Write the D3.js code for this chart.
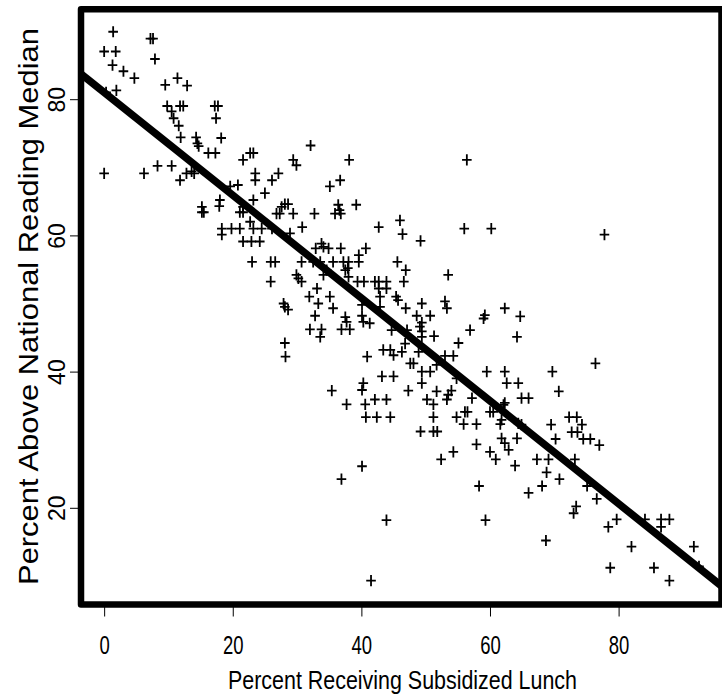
<!DOCTYPE html>
<html>
<head>
<meta charset="utf-8">
<script src="https://cdn.jsdelivr.net/npm/d3@7"></script>
<style>
body { margin: 0; background: #fff; }
</style>
</head>
<body>
<div id="chart"></div>
<script>
// Percent receiving subsidized lunch (x) per school
const lunch = [
    1.4, 7.2, 7.6, 0.0, 1.8, 7.9, 1.3, 3.0, 4.7, 0.3, 1.9, 9.5, 11.4, 12.9, 9.8, 10.5, 11.8, 12.3, 17.2, 17.7,
    17.4, 18.2, 10.8, 11.6, 11.9, 14.3, 14.5, 14.7, 16.2, 17.3, 21.6, 22.7, 23.2, 29.4, 29.9, 0.0, 6.2, 8.3, 10.5, 11.8,
    12.8, 13.6, 14.0, 23.5, 23.5, 26.1, 27.1, 25.0, 19.6, 20.8, 15.2, 18.0, 23.2, 21.6, 27.6, 28.1, 32.1, 38.1, 56.4, 35.1,
    36.7, 36.4, 39.2, 15.2, 15.5, 17.9, 21.1, 21.6, 18.3, 18.3, 19.8, 21.1, 22.7, 23.2, 24.5, 21.6, 22.9, 24.2, 26.8, 27.3,
    28.6, 29.4, 26.1, 28.9, 23.0, 25.9, 26.6, 25.9, 29.9, 27.9, 28.1, 28.6, 28.1, 28.2, 32.7, 35.9, 36.6, 36.8, 30.8, 42.7,
    46.0, 46.4, 56.0, 60.2, 49.2, 33.8, 34.1, 34.9, 32.9, 36.8, 40.7, 39.6, 30.7, 32.5, 33.6, 35.6, 37.2, 38.0, 39.6, 45.6,
    46.9, 34.6, 37.5, 37.9, 30.2, 30.7, 34.1, 38.0, 39.4, 40.4, 42.1, 42.7, 43.9, 46.6, 53.5, 42.7, 43.9, 33.1, 31.9, 35.1,
    42.9, 45.4, 45.7, 33.3, 35.6, 40.1, 42.9, 46.9, 49.4, 53.0, 53.3, 62.3, 32.8, 37.5, 37.7, 40.1, 40.3, 41.3, 48.6, 49.4,
    49.1, 50.7, 59.0, 59.2, 56.9, 32.0, 33.8, 33.6, 36.9, 38.2, 44.7, 47.1, 49.4, 49.4, 51.3, 55.1, 46.8, 43.4, 44.5, 45.0,
    46.3, 40.9, 48.9, 53.0, 54.3, 47.6, 48.1, 49.4, 50.7, 51.7, 59.5, 62.3, 43.2, 45.0, 54.8, 62.6, 49.4, 40.3, 40.1, 35.4,
    47.3, 51.7, 54.0, 53.5, 50.2, 51.2, 37.7, 40.6, 42.1, 43.9, 53.3, 57.2, 62.3, 77.8, 64.7, 64.2, 64.4, 69.7, 76.4, 70.7,
    64.9, 66.0, 40.7, 42.4, 44.5, 51.2, 49.2, 51.2, 51.8, 54.8, 56.1, 56.5, 55.9, 57.9, 60.0, 60.5, 62.1, 61.6, 61.8, 62.3,
    62.9, 57.9, 60.0, 60.9, 52.4, 54.3, 40.1, 36.9, 58.3, 43.9, 59.3, 41.5, 61.8, 64.4, 64.9, 64.2, 63.9, 69.5, 70.2, 72.3,
    73.5, 74.3, 72.7, 73.6, 74.5, 75.6, 77.0, 67.3, 69.1, 73.2, 68.8, 68.1, 70.8, 66.0, 75.1, 76.6, 73.4, 73.0, 68.7, 79.7,
    78.4, 84.1, 86.6, 87.9, 86.6, 82.0, 91.7, 78.7, 85.5, 87.9, 92.5
];

// Percent above national reading median, same order
const reading = [
    89.9, 88.9, 88.9, 87.0, 87.0, 85.9, 85.0, 84.1, 83.1, 81.0, 81.3, 82.1, 83.1, 82.0, 79.0, 78.2, 79.0, 79.0, 79.0, 79.0,
    77.2, 74.3, 77.2, 76.1, 74.4, 74.4, 73.5, 73.1, 72.1, 72.1, 71.1, 72.1, 72.1, 71.1, 70.3, 69.1, 69.1, 70.2, 70.2, 68.1,
    69.1, 69.4, 69.1, 69.1, 68.1, 68.1, 69.1, 66.2, 67.2, 67.4, 64.2, 65.2, 65.2, 64.2, 64.2, 64.6, 73.2, 71.1, 71.1, 67.2,
    68.1, 64.5, 64.5, 63.4, 63.4, 64.3, 63.4, 63.4, 61.0, 60.1, 61.0, 61.0, 62.0, 61.0, 61.0, 59.1, 59.1, 59.1, 63.2, 63.2,
    64.6, 63.2, 61.0, 60.3, 56.1, 56.1, 56.1, 53.2, 54.2, 50.0, 49.5, 49.1, 44.2, 42.2, 63.2, 63.2, 63.7, 63.2, 61.2, 61.2,
    62.2, 60.2, 61.0, 61.0, 59.2, 58.8, 58.3, 58.1, 58.1, 58.1, 58.1, 57.1, 56.1, 56.1, 56.1, 56.1, 56.1, 56.1, 56.1, 56.1,
    54.9, 54.9, 54.9, 55.2, 53.7, 53.2, 54.2, 53.9, 53.2, 53.2, 53.2, 53.2, 53.2, 53.2, 54.2, 52.2, 52.2, 52.2, 51.0, 51.0,
    51.0, 51.0, 50.5, 50.0, 49.3, 49.8, 49.5, 49.3, 50.0, 50.3, 49.3, 49.3, 48.2, 48.0, 47.3, 48.2, 47.3, 47.1, 48.2, 47.2,
    46.6, 48.2, 47.8, 48.3, 46.1, 46.2, 46.2, 45.1, 46.2, 46.2, 46.1, 46.1, 45.9, 45.1, 45.2, 44.2, 44.1, 43.2, 43.2, 42.4,
    42.9, 42.2, 42.9, 42.3, 42.3, 41.2, 41.2, 40.0, 40.0, 41.0, 40.0, 40.0, 39.3, 39.3, 39.0, 38.3, 38.3, 38.3, 37.3, 37.2,
    37.2, 37.1, 37.2, 36.6, 35.9, 35.2, 35.2, 35.2, 35.9, 35.9, 35.9, 36.1, 35.4, 60.1, 48.1, 45.1, 38.3, 40.0, 41.2, 37.1,
    36.1, 36.1, 33.3, 33.3, 33.3, 33.3, 31.2, 31.2, 31.2, 33.3, 34.1, 34.1, 32.3, 32.3, 34.1, 34.1, 35.1, 32.3, 30.2, 29.5,
    28.5, 29.3, 28.2, 27.1, 27.1, 28.2, 26.1, 24.2, 23.2, 18.2, 18.2, 9.3, 32.9, 32.4, 32.2, 30.2, 26.2, 32.2, 30.1, 33.3,
    33.3, 32.2, 31.1, 31.1, 30.1, 30.1, 29.2, 27.1, 27.1, 27.1, 25.2, 23.2, 24.2, 22.2, 23.2, 21.3, 20.2, 19.2, 15.2, 18.3,
    17.2, 18.3, 18.3, 18.3, 17.2, 14.3, 14.3, 11.2, 11.2, 9.3, 11.4
];

const xTicks = [0, 20, 40, 60, 80];
const yTicks = [20, 40, 60, 80];
const xLimits = [-3.6, 96.0];
const yLimits = [5.8, 93.2];
const fit = { intercept: 81.0, slope: -0.755 }; // least squares line

const xTitle = "Percent Receiving Subsidized Lunch";
const yTitle = "Percent Above National Reading Median";

const width = 722, height = 698;
const plot = { left: 81, right: 721.5, top: 9.3, bottom: 604.5 };

const svg = d3.select("#chart")
    .append("svg")
        .attr("width", width)
        .attr("height", height);

const x = d3.scaleLinear().domain(xLimits).range([plot.left, plot.right]);
const y = d3.scaleLinear().domain(yLimits).range([plot.bottom, plot.top]);

// x axis (the original text is squeezed sideways)
const xAxis = svg.append("g")
    .attr("transform", `translate(0,${plot.bottom})`)
    .call(d3.axisBottom(x).tickValues(xTicks).tickSize(12).tickPadding(20).tickFormat(d3.format("d")));
xAxis.select(".domain").remove();
xAxis.selectAll("line").attr("stroke", "#000").attr("stroke-width", 1);
xAxis.selectAll("text")
    .attr("fill", "#000")
    .attr("transform", "scale(0.74,1)")
    .style("font-family", "'Liberation Sans', Arial, sans-serif")
    .style("font-size", "25px");

// y axis, labels turned like base R
const yAxis = svg.append("g")
    .attr("transform", `translate(${plot.left},0)`)
    .call(d3.axisLeft(y).tickValues(yTicks).tickSize(11).tickFormat(d3.format("d")));
yAxis.select(".domain").remove();
yAxis.selectAll("line").attr("stroke", "#000").attr("stroke-width", 1);
yAxis.selectAll("text")
    .attr("fill", "#000")
    .attr("x", null).attr("dy", null)
    .attr("text-anchor", "middle")
    .attr("transform", "translate(-16,0) rotate(-90)")
    .style("font-family", "'Liberation Sans', Arial, sans-serif")
    .style("font-size", "23px");

// titles
svg.append("text")
    .attr("x", 402.5)
    .attr("y", 689)
    .attr("text-anchor", "middle")
    .attr("textLength", 349)
    .attr("lengthAdjust", "spacingAndGlyphs")
    .style("font-family", "'Liberation Sans', Arial, sans-serif")
    .style("font-size", "26px")
    .text(xTitle);

svg.append("text")
    .attr("transform", `translate(38,306.5) rotate(-90)`)
    .attr("text-anchor", "middle")
    .attr("textLength", 557)
    .attr("lengthAdjust", "spacingAndGlyphs")
    .style("font-family", "'Liberation Sans', Arial, sans-serif")
    .style("font-size", "28px")
    .text(yTitle);

// points as "+" marks
const points = lunch.map((d, i) => ({ lunch: d, reading: reading[i] }));
svg.append("g")
    .selectAll("path")
    .data(points)
    .enter()
    .append("path")
        .attr("transform", d => `translate(${x(d.lunch)},${y(d.reading)})`)
        .attr("d", "M-4.8,0H4.8M0,-5.6V5.6")
        .attr("stroke", "#000")
        .attr("stroke-width", 1.8)
        .attr("fill", "none");

// fitted line, clipped to the plot region
svg.append("clipPath")
    .attr("id", "plot-clip")
    .append("rect")
        .attr("x", plot.left).attr("y", plot.top)
        .attr("width", plot.right - plot.left).attr("height", plot.bottom - plot.top);

svg.append("path")
    .datum(xLimits)
    .attr("clip-path", "url(#plot-clip)")
    .attr("d", d3.line().x(d => x(d)).y(d => y(fit.intercept + fit.slope * d)))
    .attr("stroke", "#000")
    .attr("stroke-width", 7.5)
    .attr("fill", "none");

// heavy box around the plot
svg.append("rect")
    .attr("x", plot.left).attr("y", plot.top)
    .attr("width", plot.right - plot.left).attr("height", plot.bottom - plot.top)
    .attr("fill", "none")
    .attr("stroke", "#000")
    .attr("stroke-width", 6.5)
    .attr("stroke-linejoin", "round");
</script>
</body>
</html>
